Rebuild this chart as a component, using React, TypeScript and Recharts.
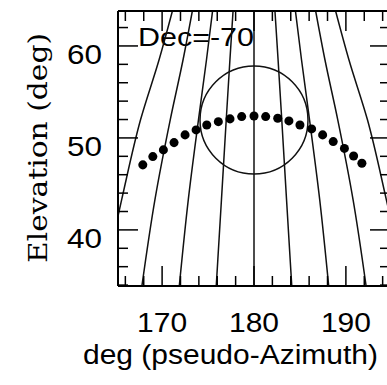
import React from 'react';
import { ComposedChart, Line, Scatter, XAxis, YAxis, ReferenceDot, Customized } from 'recharts';

// ---- data ----
const xTicks = [166, 168, 170, 172, 174, 176, 178, 180, 182, 184, 186, 188, 190, 192, 194];
const yTicks = [34, 36, 38, 40, 42, 44, 46, 48, 50, 52, 54, 56, 58, 60, 62];
const xDomain = [165.2, 194.8];
const yDomain = [33.9, 63.8];

// elevations at which each hour-angle line was sampled
const gridEl = [63.8, 58.5, 52.0, 43.3, 33.9];
const line1Az = [171.12, 169.67, 167.66, 165.6, 163.5];
const line2Az = [173.29, 172.28, 170.89, 169.22, 167.8];
const line3Az = [175.49, 174.83, 173.96, 172.85, 171.87];
const line4Az = [177.72, 177.38, 176.98, 176.46, 175.89];
const line5Az = [180, 180, 180, 180, 180];
const line6Az = [182.28, 182.62, 183.02, 183.54, 184.11];
const line7Az = [184.51, 185.17, 186.04, 187.15, 188.13];
const line8Az = [186.71, 187.72, 189.11, 190.78, 192.2];
const line9Az = [188.88, 190.33, 192.34, 194.4, 196.5];
const gridLines = [line1Az, line2Az, line3Az, line4Az, line5Az, line6Az, line7Az, line8Az, line9Az];

// source track at Dec = -70
const trackAz = [167.9, 168.99, 170.14, 171.3, 172.5, 173.7, 174.86, 176.12, 177.39, 178.66, 180.0,
  181.27, 182.58, 183.8, 185.0, 186.27, 187.47, 188.62, 189.84, 190.84, 191.74];
const trackEl = [47.07, 47.97, 48.7, 49.49, 50.33, 50.87, 51.41, 51.77, 52.07, 52.32, 52.39,
  52.32, 52.14, 51.85, 51.41, 50.98, 50.33, 49.6, 48.86, 48.04, 47.25];

// beam circle centre
const circleAz = 180;
const circleEl = 51.95;

const trackData = trackAz.map((az, i) => ({ az, el: trackEl[i] }));
const lineData = gridLines.map((arr) => arr.map((az, i) => ({ az, el: gridEl[i] })));

const SANS = '"Liberation Sans", Arial, Helvetica, sans-serif';
const SERIF = '"DejaVu Serif", "Liberation Serif", serif';

const isMajor = (v: number) => v % 10 === 0;

const LeftTick = (props: any) => {
  const { x, y, payload } = props;
  const v = payload.value;
  const m = isMajor(v);
  return (
    <g>
      <line x1={x} y1={y} x2={x + (m ? 20 : 10)} y2={y} stroke="#000" strokeWidth={1.5} />
      {m && (
        <text x={x - 16} y={y + 18} textAnchor="end" fontFamily={SANS} fontSize={28}
          textLength={35} lengthAdjust="spacingAndGlyphs" fill="#000">{v}</text>
      )}
    </g>
  );
};

const RightTick = (props: any) => {
  const { x, y, payload } = props;
  const m = isMajor(payload.value);
  return <line x1={x} y1={y} x2={x - (m ? 20 : 10)} y2={y} stroke="#000" strokeWidth={1.5} />;
};

const BottomTick = (props: any) => {
  const { x, y, payload } = props;
  const v = payload.value;
  const m = isMajor(v);
  return (
    <g>
      <line x1={x} y1={y} x2={x} y2={y - (m ? 20 : 10)} stroke="#000" strokeWidth={1.5} />
      {m && (
        <text x={x} y={y + 46} textAnchor="middle" fontFamily={SANS} fontSize={28}
          textLength={50} lengthAdjust="spacingAndGlyphs" fill="#000">{v}</text>
      )}
    </g>
  );
};

const TopTick = (props: any) => {
  const { x, y, payload } = props;
  const m = isMajor(payload.value);
  return <line x1={x} y1={y} x2={x} y2={y + (m ? 20 : 10)} stroke="#000" strokeWidth={1.5} />;
};

const Titles = () => (
  <g>
    <text x={83} y={364} fontFamily={SANS} fontSize={27} textLength={295}
      lengthAdjust="spacingAndGlyphs" fill="#000">deg (pseudo-Azimuth)</text>
    <text x={47} y={148} transform="rotate(-90 47 148)" textAnchor="middle" fontFamily={SERIF}
      fontSize={26} textLength={230} lengthAdjust="spacingAndGlyphs" fill="#000">Elevation (deg)</text>
    <text x={138} y={46} fontFamily={SANS} fontSize={26.5} textLength={116}
      lengthAdjust="spacingAndGlyphs" fill="#000">Dec=-70</text>
  </g>
);

export default function App() {
  return (
    <div style={{ position: 'fixed', left: 0, top: 0, width: 387, height: 385, overflow: 'hidden', background: '#fff' }}>
      <ComposedChart width={400} height={385} margin={{ top: 0, right: 0, bottom: 0, left: 0 }}>
        <XAxis xAxisId="b" dataKey="az" type="number" orientation="bottom" domain={xDomain}
          allowDataOverflow ticks={xTicks} interval={0} height={99} tickSize={0} tickMargin={0}
          tickLine={false} tick={BottomTick} axisLine={{ stroke: '#000', strokeWidth: 2 }} />
        <XAxis xAxisId="t" dataKey="az" type="number" orientation="top" domain={xDomain}
          allowDataOverflow ticks={xTicks} interval={0} height={11} tickSize={0} tickMargin={0}
          tickLine={false} tick={TopTick} axisLine={{ stroke: '#000', strokeWidth: 2 }} />
        <YAxis yAxisId="l" dataKey="el" type="number" orientation="left" domain={yDomain}
          allowDataOverflow ticks={yTicks} interval={0} width={118} tickSize={0} tickMargin={0}
          tickLine={false} tick={LeftTick} axisLine={{ stroke: '#000', strokeWidth: 2 }} />
        <YAxis yAxisId="r" dataKey="el" type="number" orientation="right" domain={yDomain}
          allowDataOverflow ticks={yTicks} interval={0} width={10} tickSize={0} tickMargin={0}
          tickLine={false} tick={RightTick} axisLine={{ stroke: '#000', strokeWidth: 2 }} />
        {lineData.map((d, i) => (
          <Line key={i} xAxisId="b" yAxisId="l" data={d} dataKey="el" type="monotoneY"
            stroke="#111" strokeWidth={1.5} dot={false} activeDot={false} isAnimationActive={false} />
        ))}
        <ReferenceDot xAxisId="b" yAxisId="l" x={circleAz} y={circleEl} r={54} fill="none"
          stroke="#111" strokeWidth={1.5} ifOverflow="visible" />
        <Scatter xAxisId="b" yAxisId="l" data={trackData} dataKey="el" fill="#000" isAnimationActive={false} />
        <Customized component={Titles} />
      </ComposedChart>
    </div>
  );
}
